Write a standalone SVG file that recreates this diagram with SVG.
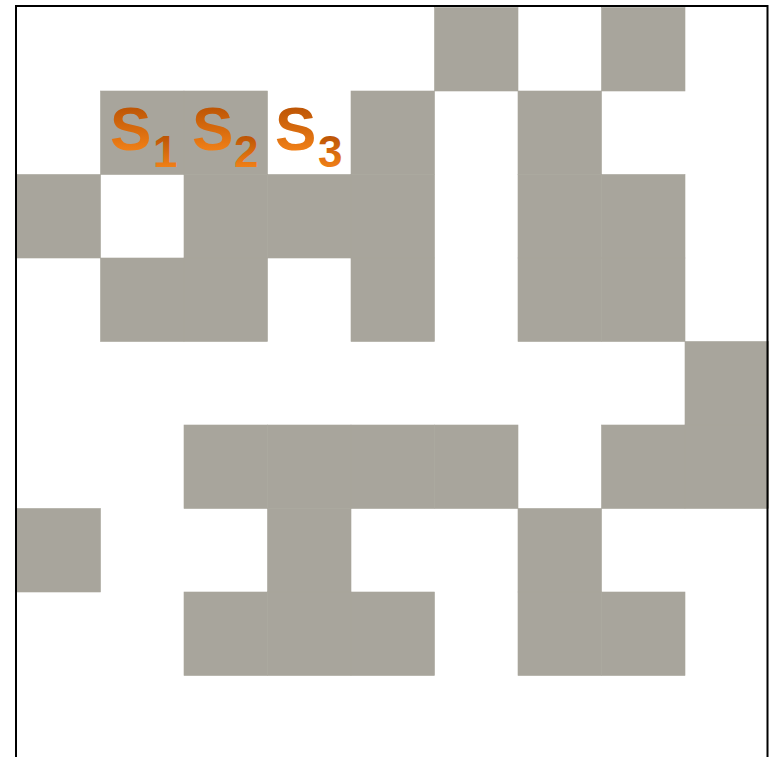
<svg xmlns="http://www.w3.org/2000/svg" width="769" height="757" viewBox="0 0 769 757">
<defs>
<linearGradient id="og" x1="0" y1="0" x2="0" y2="1">
<stop offset="0" stop-color="#ad4800"/>
<stop offset="1" stop-color="#ff8c1c"/>
</linearGradient>
<style>
.c{fill:#a8a59c;stroke:#a8a59c;stroke-width:0.6}
.s{font-family:"Liberation Sans",Arial,sans-serif;font-weight:bold;font-size:62px;fill:url(#og)}
.n{font-family:"Liberation Sans",Arial,sans-serif;font-weight:bold;font-size:44px;fill:url(#og)}
</style>
</defs>
<rect x="0" y="0" width="769" height="757" fill="#fff"/>
<g id="cells">
<rect class="c" x="434.5" y="7.5" width="83.5" height="83.5"/>
<rect class="c" x="601.5" y="7.5" width="83.5" height="83.5"/>
<rect class="c" x="100.5" y="91" width="83.5" height="83.5"/>
<rect class="c" x="184" y="91" width="83.5" height="83.5"/>
<rect class="c" x="351" y="91" width="83.5" height="83.5"/>
<rect class="c" x="518" y="91" width="83.5" height="83.5"/>
<rect class="c" x="17" y="174.5" width="83.5" height="83.5"/>
<rect class="c" x="184" y="174.5" width="83.5" height="83.5"/>
<rect class="c" x="267.5" y="174.5" width="83.5" height="83.5"/>
<rect class="c" x="351" y="174.5" width="83.5" height="83.5"/>
<rect class="c" x="518" y="174.5" width="83.5" height="83.5"/>
<rect class="c" x="601.5" y="174.5" width="83.5" height="83.5"/>
<rect class="c" x="100.5" y="258" width="83.5" height="83.5"/>
<rect class="c" x="184" y="258" width="83.5" height="83.5"/>
<rect class="c" x="351" y="258" width="83.5" height="83.5"/>
<rect class="c" x="518" y="258" width="83.5" height="83.5"/>
<rect class="c" x="601.5" y="258" width="83.5" height="83.5"/>
<rect class="c" x="685" y="341.5" width="83.5" height="83.5"/>
<rect class="c" x="184" y="425" width="83.5" height="83.5"/>
<rect class="c" x="267.5" y="425" width="83.5" height="83.5"/>
<rect class="c" x="351" y="425" width="83.5" height="83.5"/>
<rect class="c" x="434.5" y="425" width="83.5" height="83.5"/>
<rect class="c" x="601.5" y="425" width="83.5" height="83.5"/>
<rect class="c" x="685" y="425" width="83.5" height="83.5"/>
<rect class="c" x="17" y="508.5" width="83.5" height="83.5"/>
<rect class="c" x="267.5" y="508.5" width="83.5" height="83.5"/>
<rect class="c" x="518" y="508.5" width="83.5" height="83.5"/>
<rect class="c" x="184" y="592" width="83.5" height="83.5"/>
<rect class="c" x="267.5" y="592" width="83.5" height="83.5"/>
<rect class="c" x="351" y="592" width="83.5" height="83.5"/>
<rect class="c" x="518" y="592" width="83.5" height="83.5"/>
<rect class="c" x="601.5" y="592" width="83.5" height="83.5"/>
</g>
<g id="s1">
<text class="s" x="110" y="150">S</text>
<text class="n" x="153" y="167">1</text>
</g>
<g id="s2">
<text class="s" x="192" y="150">S</text>
<text class="n" x="234" y="167">2</text>
</g>
<g id="s3">
<text class="s" x="275" y="150">S</text>
<text class="n" x="318" y="167">3</text>
</g>
<g id="connectors"></g>
<rect x="16" y="6" width="751.5" height="760" fill="none" stroke="#000" stroke-width="2"/>
</svg>
